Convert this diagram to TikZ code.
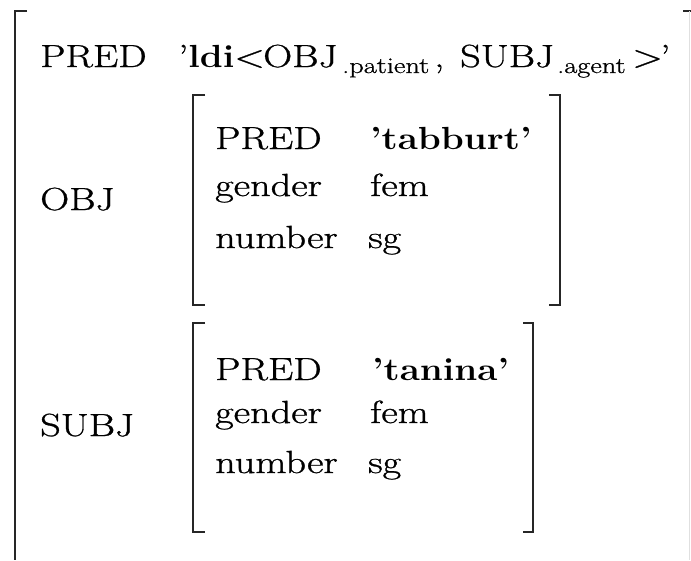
\documentclass[tikz,border=0pt]{standalone}
\usepackage{fontspec}
\usepackage{graphicx}
\setmainfont{Latin Modern Roman}[UprightFeatures={FakeBold=0.8}]
% widened lettering: regular and bold faces
\newcommand\wtxt[1]{\scalebox{1.26}[1]{#1}}
\newcommand\wbf[1]{\scalebox{1.15}[1]{\textbf{#1}}}
\begin{document}
\begin{tikzpicture}[x=1pt,y=-1pt,
  lbl/.style={inner sep=0pt, anchor=base west, font=\fontsize{32}{38}\selectfont},
  subs/.style={inner sep=0pt, anchor=base west, font=\fontsize{22.5}{26}\selectfont},
  brk/.style={line width=2.4pt, black!85, line cap=butt},
  faint/.style={line width=1pt, black!12}]
\fill[white] (0,0) rectangle (691,560);
\useasboundingbox (0,0) rectangle (691,560);

% outer attribute-value matrix
\draw[brk] (27,11) -- (15,11) -- (15,560);
\draw[brk] (683,11) -- (691,11);
\draw[faint] (689,11) -- (689,560);

% top-level PRED
\node[lbl] (pred) at (40,67) {\wtxt{PRED}};
\node[lbl] (ldi) at (178,67) {\wtxt{'}\wbf{ldi}};
\node[lbl] (lt) at (234,67) {\wtxt{<}};
\node[lbl] (obja) at (263,67) {\wtxt{OBJ}};
\node[subs] (pat) at (342,73) {\wtxt{.patient}};
\node[lbl] (comma) at (434,67) {\wtxt{,}};
\node[lbl] (subja) at (460,67) {\wtxt{SUBJ}};
\node[subs] (agt) at (557,73) {\wtxt{.agent}};
\node[lbl] (gt) at (632,67) {\wtxt{>}};
\node[lbl] (q) at (660,67) {\wtxt{'}};

% OBJ
\node[lbl] (objl) at (40,210) {\wtxt{OBJ}};
\draw[brk] (205,95) -- (193,95) -- (193,305) -- (205,305);
\draw[brk] (549,95) -- (560,95) -- (560,305) -- (549,305);
\node[lbl] (op) at (215,149) {\wtxt{PRED}};
\node[lbl] (og) at (215,196) {\wtxt{gender}};
\node[lbl] (on) at (215,248) {\wtxt{number}};
\node[lbl] (opv) at (370,149) {\wbf{'tabburt'}};
\node[lbl] (ogv) at (370,196) {\wtxt{fem}};
\node[lbl] (onv) at (368,248) {\wtxt{sg}};

% SUBJ
\node[lbl] (subjl) at (40,436) {\wtxt{SUBJ}};
\draw[brk] (205,323) -- (193,323) -- (193,532) -- (205,532);
\draw[brk] (523,323) -- (533,323) -- (533,532) -- (523,532);
\node[lbl] (sp) at (215,380) {\wtxt{PRED}};
\node[lbl] (sg) at (215,423) {\wtxt{gender}};
\node[lbl] (sn) at (215,473) {\wtxt{number}};
\node[lbl] (spv) at (372,380) {\wbf{'tanina'}};
\node[lbl] (sgv) at (370,423) {\wtxt{fem}};
\node[lbl] (snv) at (368,473) {\wtxt{sg}};
\end{tikzpicture}
\end{document}
